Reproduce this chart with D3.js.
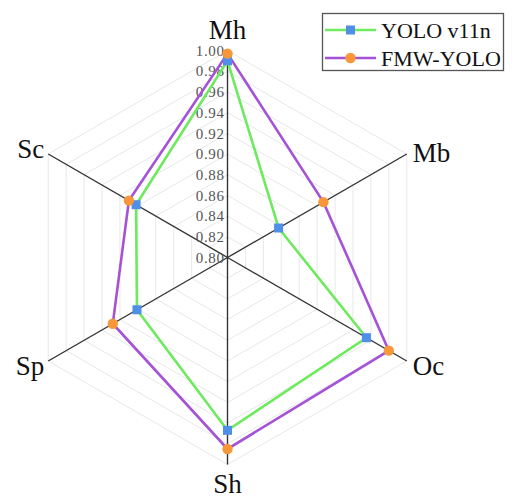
<!DOCTYPE html>
<html><head><meta charset="utf-8">
<script src="https://cdn.jsdelivr.net/npm/d3@7"></script>
<style>html,body{margin:0;padding:0;background:#fff;}svg{display:block;}</style>
</head><body>
<svg id="chart" width="516" height="504"></svg>
<script>
const axesNames = ["Mh", "Mb", "Oc", "Sh", "Sp", "Sc"];
const yolo = [0.990, 0.857, 0.955, 0.967, 0.901, 0.902];
const fmw = [0.997, 0.907, 0.980, 0.985, 0.928, 0.910];
const seriesNames = ["YOLO v11n", "FMW-YOLO"];
const tickValues = [0.80, 0.82, 0.84, 0.86, 0.88, 0.90, 0.92, 0.94, 0.96, 0.98, 1.00];

const svg = d3.select("#chart");
const cx = 227.5, cy = 257.5, R = 207;
const r = d3.scaleLinear().domain([0.80, 1.00]).range([0, R]);
const ang = d3.scalePoint().domain(axesNames).range([0, 360 * 5 / 6]);
const pt = (name, v) => {
  const a = (ang(name) - 90) * Math.PI / 180;
  return [cx + r(v) * Math.cos(a), cy + r(v) * Math.sin(a)];
};
const font = "'Liberation Serif','Times New Roman',serif";

// grid hexagons
const g = svg.append("g");
tickValues.slice(1).forEach(t => {
  g.append("polygon")
    .attr("points", axesNames.map(n => pt(n, t).join(",")).join(" "))
    .attr("fill", "none").attr("stroke", "#e8e8e8").attr("stroke-width", 1);
});
// axes
axesNames.forEach(n => {
  const p = pt(n, 1.00);
  g.append("line").attr("x1", cx).attr("y1", cy).attr("x2", p[0]).attr("y2", p[1])
    .attr("stroke", "#333").attr("stroke-width", 1.4);
});
// tick labels
tickValues.forEach(t => {
  const p = pt("Mh", t);
  g.append("text").attr("x", p[0] - 3).attr("y", p[1]).attr("dy", "0.35em")
    .attr("text-anchor", "end").attr("font-family", font).attr("font-size", 15)
    .attr("letter-spacing", 0.6).attr("fill", "#555").text(t.toFixed(2));
});
// axis labels
const labelPos = {
  Mh: {dx: 0, dy: -12, anchor: "middle"},
  Mb: {dx: 6, dy: 8, anchor: "start"},
  Oc: {dx: 6, dy: 14, anchor: "start"},
  Sh: {dx: 0, dy: 28, anchor: "middle"},
  Sp: {dx: -4, dy: 14, anchor: "end"},
  Sc: {dx: -4, dy: 4, anchor: "end"}
};
axesNames.forEach(n => {
  const p = pt(n, 1.00), o = labelPos[n];
  g.append("text").attr("x", p[0] + o.dx).attr("y", p[1] + o.dy)
    .attr("text-anchor", o.anchor).attr("font-family", font).attr("font-size", 27)
    .attr("fill", "#111").text(n);
});

const series = [
  {name: seriesNames[0], values: yolo, line: "#6eea5e", marker: "#4f8fe8", shape: "square"},
  {name: seriesNames[1], values: fmw, line: "#a552d6", marker: "#f7973a", shape: "circle"}
];
const lineGen = d3.line().curve(d3.curveLinearClosed);
series.forEach(s => {
  const pts = axesNames.map((n, i) => pt(n, s.values[i]));
  svg.append("path").attr("d", lineGen(pts)).attr("fill", "none")
    .attr("stroke", s.line).attr("stroke-width", 2.6).attr("stroke-linejoin", "miter");
});
function marker(sel, s, x, y) {
  if (s.shape === "square") {
    sel.append("rect").attr("x", x - 4.5).attr("y", y - 4.5).attr("width", 9).attr("height", 9).attr("fill", s.marker);
  } else {
    sel.append("circle").attr("cx", x).attr("cy", y).attr("r", 5.2).attr("fill", s.marker);
  }
}
series.forEach(s => {
  axesNames.forEach((n, i) => { const p = pt(n, s.values[i]); marker(svg, s, p[0], p[1]); });
});

// legend
const lg = svg.append("g");
lg.append("rect").attr("x", 322.5).attr("y", 13.5).attr("width", 181).attr("height", 57)
  .attr("fill", "#fff").attr("stroke", "#555").attr("stroke-width", 1.3);
series.forEach((s, i) => {
  const y = 30 + i * 28;
  lg.append("line").attr("x1", 325).attr("x2", 376).attr("y1", y).attr("y2", y)
    .attr("stroke", s.line).attr("stroke-width", 2.6);
  marker(lg, s, 350.5, y);
  lg.append("text").attr("x", 381).attr("y", y).attr("dy", "0.35em")
    .attr("font-family", font).attr("font-size", 22).attr("fill", "#111").text(s.name);
});
</script>
</body></html>
